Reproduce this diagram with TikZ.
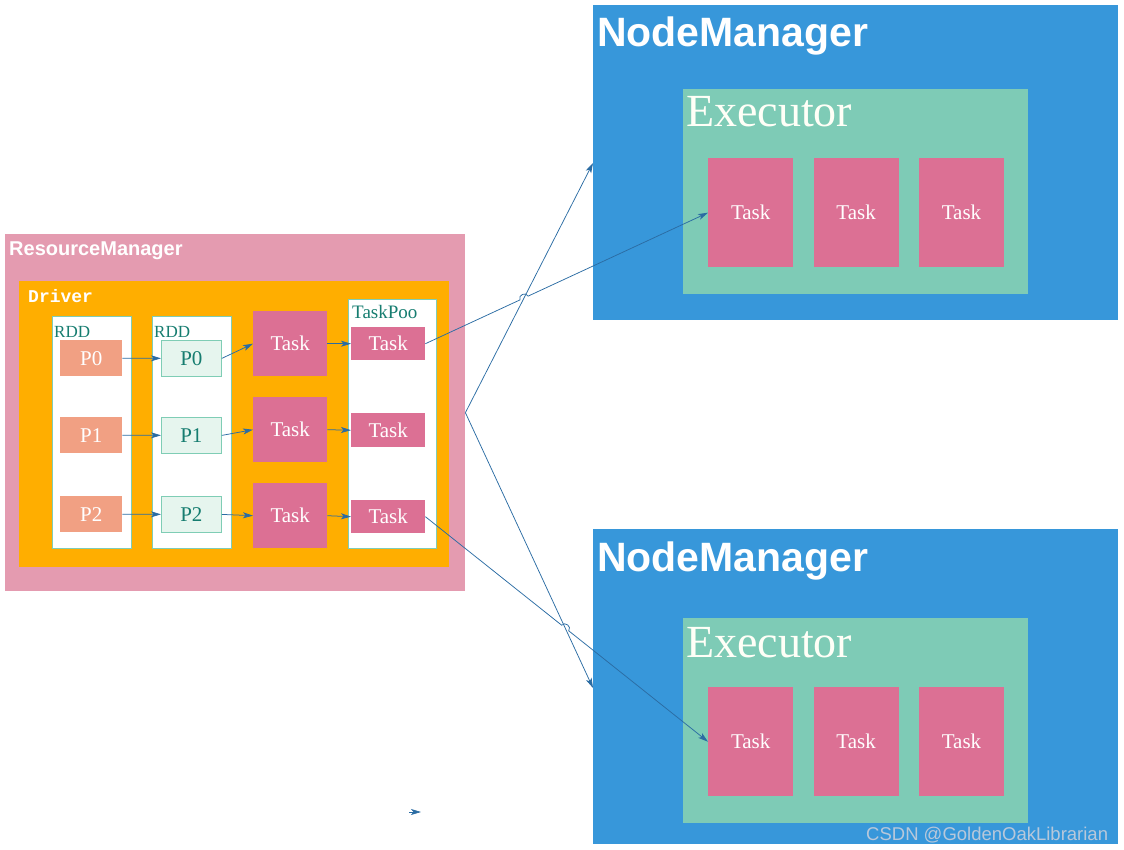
\documentclass[tikz,border=0pt]{standalone}
\usepackage{fontspec}
\setmainfont{Liberation Serif}
\newfontfamily\headfont{Liberation Sans}
\newfontfamily\drvfont{Liberation Mono}
\usepackage{tikz}
\usetikzlibrary{arrows.meta,calc,positioning}
\definecolor{rmpink}{RGB}{228,155,176}
\definecolor{drvorange}{RGB}{255,174,0}
\definecolor{partsalmon}{RGB}{241,160,131}
\definecolor{partmint}{RGB}{230,245,238}
\definecolor{mintline}{RGB}{127,205,181}
\definecolor{taskpink}{RGB}{220,112,148}
\definecolor{nmblue}{RGB}{55,151,218}
\definecolor{exteal}{RGB}{126,203,182}
\definecolor{labteal}{RGB}{22,125,112}
\definecolor{flowblue}{RGB}{43,108,163}
\definecolor{wmgrey}{RGB}{184,200,218}
\tikzset{
    %Define standard arrow tip
    >={Stealth[length=10pt,width=6pt,inset=2.5pt]},
    %Define style for boxes
    box/.style={
           rectangle,
           inner sep=0pt,
           anchor=north west},
    rmbox/.style={box, fill=rmpink},
    drvbox/.style={box, fill=drvorange},
    rddbox/.style={box, fill=white, draw=mintline, line width=0.8pt},
    partleft/.style={
           box,
           fill=partsalmon,
           minimum width=62pt,
           minimum height=36pt,
           text=white,
           font=\fontsize{21}{24}\selectfont},
    partright/.style={
           box,
           fill=partmint,
           draw=mintline, line width=0.8pt,
           minimum width=60pt,
           minimum height=36pt,
           text=labteal,
           font=\fontsize{21}{24}\selectfont},
    taskbox/.style={
           box,
           fill=taskpink,
           text=white,
           font=\fontsize{21}{24}\selectfont},
    nmbox/.style={box, fill=nmblue, minimum width=525pt, minimum height=315pt},
    exbox/.style={box, fill=exteal, minimum width=345pt, minimum height=205pt},
    %Define style for labels
    headlbl/.style={anchor=base west, inner sep=0pt, text=white},
    tealbl/.style={anchor=base west, inner sep=0pt, text=labteal},
    % Define arrow style
    flow/.style={
           ->,
           color=flowblue,
           line width=0.75pt},
    hop/.style={bend left=90, looseness=1.5}
}
\begin{document}
\begin{tikzpicture}[x=1pt,y=-1pt]
\useasboundingbox (0,0) rectangle (1124,850);
% resource manager with driver
\node[rmbox, minimum width=460pt, minimum height=357pt] (rm) at (5,234) {};
\node[headlbl, font=\headfont\bfseries\fontsize{20}{24}\selectfont] (rmlbl) at (9,256) {ResourceManager};
\node[drvbox, minimum width=430pt, minimum height=286pt] (drv) at (19,281) {};
\node[headlbl, font=\drvfont\bfseries\fontsize{18}{22}\selectfont] (drvlbl) at (28,302) {Driver};
\node[rddbox, minimum width=79pt, minimum height=232pt] (rdda) at (52,316) {};
\node[rddbox, minimum width=79pt, minimum height=232pt] (rddb) at (152,316) {};
\node[rddbox, minimum width=88pt, minimum height=249pt] (pool) at (348,299) {};
\node[tealbl, font=\fontsize{17}{20}\selectfont] (rddalbl) at (54,337) {RDD};
\node[tealbl, font=\fontsize{17}{20}\selectfont] (rddblbl) at (154,337) {RDD};
\node[tealbl, font=\fontsize{19}{22}\selectfont] (poollbl) at (352,319) {TaskPoo};
% partitions
\node[partleft] (pa0) at (60,340) {P0};
\node[partleft] (pa1) at (60,417) {P1};
\node[partleft] (pa2) at (60,496) {P2};
\node[partright] (pb0) at (161,340) {P0};
\node[partright] (pb1) at (161,417) {P1};
\node[partright] (pb2) at (161,496) {P2};
% tasks
\node[taskbox, minimum width=74pt, minimum height=65pt] (tb0) at (253,311) {Task};
\node[taskbox, minimum width=74pt, minimum height=65pt] (tb1) at (253,397) {Task};
\node[taskbox, minimum width=74pt, minimum height=65pt] (tb2) at (253,483) {Task};
\node[taskbox, minimum width=74pt, minimum height=33pt] (ts0) at (351,327) {Task};
\node[taskbox, minimum width=74pt, minimum height=34pt] (ts1) at (351,413) {Task};
\node[taskbox, minimum width=74pt, minimum height=33pt] (ts2) at (351,500) {Task};
% node managers
\node[nmbox] (nm1) at (593,5) {};
\node[headlbl, font=\headfont\bfseries\fontsize{41}{48}\selectfont] (nm1lbl) at (597,47) {NodeManager};
\node[exbox] (ex1) at (683,89) {};
\node[headlbl, font=\fontsize{46}{52}\selectfont, text=white!97!yellow] (ex1lbl) at (686,127) {Executor};
\node[taskbox, minimum width=85pt, minimum height=109pt] (nt1) at (708,158) {Task};
\node[taskbox, minimum width=85pt, minimum height=109pt, right=20pt of nt1] (nt2) {Task};
\node[taskbox, minimum width=85pt, minimum height=109pt, right=20pt of nt2] (nt3) {Task};
\node[nmbox] (nm2) at (593,529) {};
\node[headlbl, font=\headfont\bfseries\fontsize{41}{48}\selectfont] (nm2lbl) at (597,571) {NodeManager};
\node[exbox] (ex2) at (683,618) {};
\node[headlbl, font=\fontsize{46}{52}\selectfont, text=white!97!yellow] (ex2lbl) at (686,657) {Executor};
\node[taskbox, minimum width=85pt, minimum height=109pt] (mt1) at (708,687) {Task};
\node[taskbox, minimum width=85pt, minimum height=109pt, right=20pt of mt1] (mt2) {Task};
\node[taskbox, minimum width=85pt, minimum height=109pt, right=20pt of mt2] (mt3) {Task};
\node[anchor=base west, inner sep=0pt, text=wmgrey, font=\headfont\fontsize{18.5}{21}\selectfont] (wm) at (866,840) {CSDN @GoldenOakLibrarian};
% short arrows
\path[flow]
	(pa0) edge (pb0)
	(pa1) edge (pb1)
	(pa2) edge (pb2)
	(pb0.east) edge (tb0.west)
	(pb1.east) edge (tb1.west)
	(pb2.east) edge (tb2.west)
	(tb0.east) edge (ts0.west)
	(tb1.east) edge (ts1.west)
	(tb2.east) edge (ts2.west);
% long arrows
\coordinate (hub) at (rm.east);
\coordinate (nm1in) at (593,163);
\coordinate (nm2in) at (593,688);
\draw[flow] (hub) -- (nm1in);
\draw[flow] (hub) -- (nm2in);
\coordinate (x1) at (intersection of ts0.east--nt1.west and hub--nm1in);
\coordinate (x2) at (intersection of ts2.east--mt1.west and hub--nm2in);
\draw[flow] (ts0.east) -- ($(x1)!4.5pt!(ts0.east)$) to[hop] ($(x1)!4.5pt!(nt1.west)$) -- (nt1.west);
\draw[flow] (ts2.east) -- ($(x2)!4.5pt!(ts2.east)$) to[hop] ($(x2)!4.5pt!(mt1.west)$) -- (mt1.west);
\coordinate (s1) at (409,812);
\coordinate (s2) at (421,812);
\draw[flow] (s1) -- (s2);
\end{tikzpicture}
\end{document}
